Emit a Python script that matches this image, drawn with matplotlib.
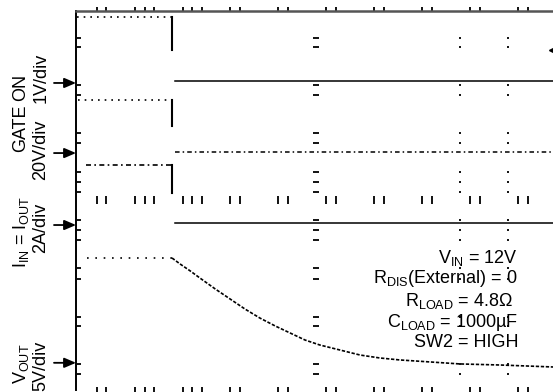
import matplotlib.pyplot as plt

plt.rcParams['font.family'] = ['Liberation Sans', 'DejaVu Sans']
plt.rcParams['mathtext.fontset'] = 'custom'
plt.rcParams['mathtext.rm'] = 'Liberation Sans'
plt.rcParams['mathtext.it'] = 'Liberation Sans'

# scope channels: scale per division and ground marker position (in divisions)
CHANNELS = ['on', 'gate', 'iout', 'vout']
PER_DIV = [1.0, 20.0, 2.0, 5.0]
REF_DIV = [2.48, 1.0, -0.52, -3.43]
LABEL_TOP = ['ON', 'GATE', r'$\mathregular{I_{IN}}$ = $\mathregular{I_{OUT}}$', r'$\mathregular{V_{OUT}}$']
LABEL_BOT = ['1V/div', '20V/div', '2A/div', '5V/div']

# time axis in divisions, switch-off edge at 2 div
T_EDGE = 2.0
t_start = [0.02, 0.04, 0.2, 0.22]
t_end = 10.0

# levels before / after the edge (V, V, A, V)
level_pre = [1.4, 22.4, 2.54, 11.05]
level_post = [0.05, 0.4, 0.08, None]
# lowest point of the falling edge that the screen capture still shows
edge_low = [0.69, 11.4, 1.35, None]

# output voltage discharge after the edge (divisions, volts)
t_decay = [2.0, 2.17, 2.38, 2.58, 2.9, 3.21, 3.52, 3.83, 4.15, 4.46, 4.77,
           5.08, 5.5, 5.92, 6.33, 6.75, 7.38, 8.0, 8.83, 9.94]
vout_decay = [11.07, 10.43, 9.70, 8.96, 7.80, 6.74, 5.68, 4.73, 3.89, 3.15,
              2.41, 1.88, 1.35, 0.82, 0.51, 0.30, 0.09, -0.12, -0.23, -0.44]

# graticule marks (divisions)
grid_y_marks = [3.44, 3.24, 2.44, 2.23, 1.42, 1.21, 0.6, 0.39, 0.18, -0.41,
                -0.63, -0.84, -1.43, -1.65, -2.46, -2.65, -3.45, -3.66]
grid_x_marks = [0.44, 0.625, 1.23, 1.44, 1.625, 2.23, 2.42, 2.625, 3.21, 3.42,
                4.21, 4.42, 5.21, 5.42, 6.21, 6.42, 7.21, 7.42, 8.21, 8.42,
                9.21, 9.42]

notes = [r'$\mathregular{V_{IN}}$ = 12V',
         r'$\mathregular{R_{DIS}}$(External) = 0',
         r'$\mathregular{R_{LOAD}}$ = 4.8Ω',
         r'$\mathregular{C_{LOAD}}$ = 1000µF',
         'SW2 = HIGH']


def to_div(ch, vals):
    return [REF_DIV[ch] + v / PER_DIV[ch] for v in vals]


fig = plt.figure(figsize=(5.53, 3.92), dpi=100)
ax = fig.add_axes([76 / 553, 2.2 / 392, 480 / 553, 378.8 / 392])
ax.set_xlim(0, 10)
ax.set_ylim(-4, 4)
ax.set_xticks([])
ax.set_yticks([])
ax.spines['right'].set_visible(False)
ax.spines['bottom'].set_visible(False)
ax.spines['left'].set_linewidth(1.4)
ax.spines['top'].set_color('#555555')
ax.spines['top'].set_linewidth(1.8)

# graticule
k = dict(color='black', lw=1.3, clip_on=False)
ax.vlines(grid_x_marks, 3.97, 4.08, **k)
ax.vlines(grid_x_marks, -0.08, 0.1, **k)
ax.vlines(grid_x_marks, -4.1, -3.94, **k)
ax.hlines(grid_y_marks, 0.03, 0.1, **k)
ax.hlines(grid_y_marks, 4.94, 5.06, **k)
ax.hlines(grid_y_marks, 7.98, 8.02, **k)
ax.hlines(grid_y_marks, 8.98, 9.02, **k)

pre_styles = [(0, (1, 3)), (0, (1, 3)), (0, (3, 2, 1, 2)), (0, (1, 4))]
post_styles = ['-', (0, (3, 2, 1, 2)), '-', None]

for ch in range(4):
    pre = to_div(ch, [level_pre[ch]] * 2)
    ax.plot([t_start[ch], T_EDGE], pre, color='black', lw=1.2,
            linestyle=pre_styles[ch])
    if level_post[ch] is not None:
        edge = to_div(ch, [level_pre[ch], edge_low[ch]])
        ax.plot([T_EDGE, T_EDGE], edge, color='black', lw=1.5)
        post = to_div(ch, [level_post[ch]] * 2)
        ax.plot([T_EDGE + 0.06, t_end], post, color='black', lw=1.1,
                linestyle=post_styles[ch])

ax.plot(t_decay, to_div(3, vout_decay), color='black', lw=1.2,
        linestyle=(0, (2, 1)))

# trigger marker on the right edge
ax.plot([9.93], [3.18], marker='<', color='black', markersize=6, clip_on=False)

# channel labels and ground arrows
lab_x1 = [21, 21, 21, 21]
lab_x2 = [41, 41, 41, 41]
lab_y1 = [87, 128, 232, 364]
lab_y2 = [78, 150, 228, 366]
for ch in range(4):
    y_ref = REF_DIV[ch]
    ax.annotate('', xy=(0, y_ref), xycoords=ax.get_yaxis_transform(),
                xytext=(-22 / 480, y_ref), textcoords=ax.get_yaxis_transform(),
                arrowprops=dict(arrowstyle='-|>,head_length=0.7,head_width=0.3',
                                color='black', lw=1.3, shrinkA=0, shrinkB=0),
                annotation_clip=False)
    fig.text(lab_x1[ch] / 553, 1 - lab_y1[ch] / 392, LABEL_TOP[ch],
             rotation=90, ha='center', va='center', fontsize=13)
    fig.text(lab_x2[ch] / 553, 1 - lab_y2[ch] / 392, LABEL_BOT[ch],
             rotation=90, ha='center', va='center', fontsize=13)

note_x = [9.21, 9.21, 9.10, 9.21, 9.21]
note_y = [-1.32, -1.74, -2.23, -2.67, -3.09]
for s, x, y in zip(notes, note_x, note_y):
    ax.text(x, y, s, ha='right', va='baseline', fontsize=13)

fig.savefig('out.png', dpi=100)
